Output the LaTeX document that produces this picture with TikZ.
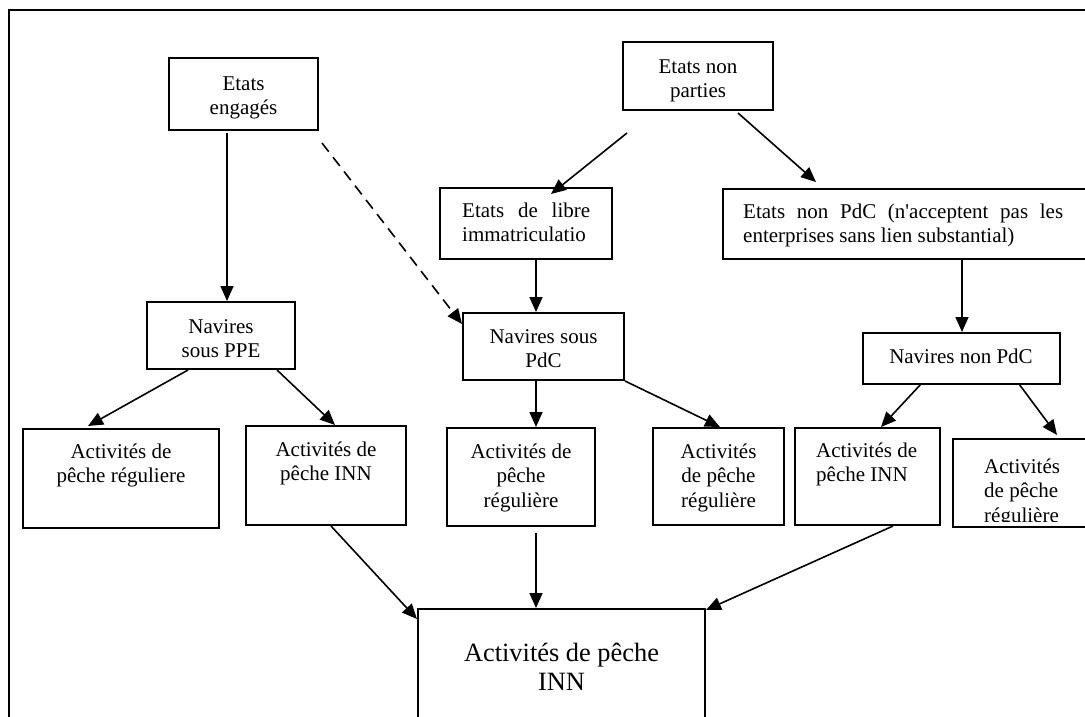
\documentclass[tikz,border=0pt]{standalone}
\usepackage{fontspec}
\setmainfont{Liberation Serif}[Ligatures=TeXOff]
\usetikzlibrary{arrows.meta,calc}
\newcommand{\firstln}{\rule{0pt}{15pt}}
\newcommand{\firstbig}{\rule{0pt}{19pt}}
\begin{document}
\begin{tikzpicture}[x=1pt,y=-1pt,
  box/.style={draw, line width=2pt, inner sep=0pt, rectangle},
  txt/.style={font=\fontsize{21}{24.5}\selectfont, inner sep=0pt, align=center, anchor=north},
  txtl/.style={txt, align=left, anchor=north west},
  arr/.style={line width=1.6pt, -{Triangle[length=15pt,width=13pt]}},
  dsh/.style={arr, dash pattern=on 11pt off 7pt}]
\useasboundingbox (0,0) rectangle (1085,716);
\clip (0,0) rectangle (1085,716);
\draw[line width=1.2pt] (9,10) rectangle (1100,730);

% boxes
\node[box, minimum width=149pt, minimum height=72pt] (ee)   at (243.5,94) {};
\node[box, minimum width=148pt, minimum height=67pt] (ppe)  at (221,335.5) {};
\node[box, minimum width=172pt, minimum height=71pt] (libre) at (526,223.5) {};
\node[box, minimum width=161pt, minimum height=67pt] (pdc)  at (543.5,346.5) {};
\node[box, minimum width=150pt, minimum height=68pt] (np)   at (698,76) {};
\node[box, minimum width=372pt, minimum height=70pt] (npdc) at (909,224) {};
\node[box, minimum width=197pt, minimum height=51pt] (nnp)  at (961.5,358.5) {};
\node[box, minimum width=196pt, minimum height=99pt] (a1)   at (121,478.5) {};
\node[box, minimum width=160pt, minimum height=99pt] (a2)   at (326,475.5) {};
\node[box, minimum width=148pt, minimum height=98pt] (a3)   at (521,477) {};
\node[box, minimum width=131pt, minimum height=97pt] (a4)   at (718.5,476.5) {};
\node[box, minimum width=145pt, minimum height=97pt] (a5)   at (867.5,476.5) {};
\node[box, minimum width=147pt, minimum height=88pt] (a6)   at (1026.5,483) {};
\node[box, minimum width=287pt, minimum height=131pt] (big) at (561.5,674.5) {};

% texts
\node[txt] (tee) at (243.5,75) {\firstln Etats\\engagés};
\node[txt] (tnp) at (698,58) {\firstln Etats non\\parties};
\node[txt] (tppe) at (221,318) {\firstln Navires\\sous PPE};
\node[txtl] (tlibre) at (462,202) {\firstln\hbox to 128pt{Etats\hfill de\hfill libre}\\immatriculatio};
\node[txtl] (tnpdc) at (743,203) {\firstln\hbox to 320pt{Etats\hfill non\hfill PdC\hfill (n'acceptent\hfill pas\hfill les}\\enterprises sans lien substantial)};
\node[txt] (tpdc) at (543.5,328) {\firstln Navires sous\\PdC};
\node[txt] (tnnp) at (961,348) {\firstln Navires non PdC};
\node[txt] (ta1) at (121,443) {\firstln Activités de\\pêche réguliere};
\node[txt] (ta2) at (326,441) {\firstln Activités de\\pêche INN};
\node[txt] (ta3) at (521,443) {\firstln Activités de\\pêche\\régulière};
\node[txt] (ta4) at (718.5,443) {\firstln Activités\\de pêche\\régulière};
\node[txtl] (ta5) at (816,442) {\firstln Activités de\\pêche INN};
\begin{scope}
  \clip (953,439) rectangle (1085,521);
  \node[txtl] (ta6) at (984,458) {\firstln Activités\\de pêche\\régulière};
\end{scope}
\node[txt, font=\fontsize{26.4}{29.5}\selectfont] (tbig) at (561.5,642) {\firstbig Activités de pêche\\INN};

% connector coordinates
\coordinate (s1) at (227,133);
\coordinate (s2) at (322,143);
\coordinate (s3) at (627,133);
\coordinate (s4) at (738,113);
\coordinate (v1) at (536,0);
\coordinate (v2) at (962,0);
\coordinate (s7) at (188,370);
\coordinate (s8) at (277,370);
\coordinate (s11) at (921,384);
\coordinate (s12) at (1019,384);
\coordinate (s13) at (331,526);
\coordinate (s15) at (893,526);

% connectors
\draw[arr] (s1) -- (ppe.north -| s1);
\draw[dsh] (s2) -- ($(pdc.north west)+(0,12)$);
\draw[arr] (s3) -- ($(libre.north west)+(112,7)$);
\draw[arr] (s4) -- ($(npdc.north west)+(94,-6)$);
\draw[arr] (libre.south -| v1) -- (pdc.north -| v1);
\draw[arr] (npdc.south -| v2) -- (nnp.north -| v2);
\draw[arr] (s7) -- ($(a1.north west)+(66,-2)$);
\draw[arr] (s8) -- ($(a2.north west)+(90,0)$);
\draw[arr] (pdc.south -| v1) -- (a3.north -| v1);
\draw[arr] (pdc.south east) -- ($(a4.north west)+(68,0)$);
\draw[arr] (s11) -- ($(a5.north west)+(87,0)$);
\draw[arr] (s12) -- ($(a6.north west)+(105,-3)$);
\draw[arr] (s13) -- ($(big.north west)+(0,11)$);
\draw[arr] ($(a3.south -| v1)+(0,6)$) -- (big.north -| v1);
\draw[arr] (s15) -- ($(big.north east)+(0,2)$);
\end{tikzpicture}
\end{document}
